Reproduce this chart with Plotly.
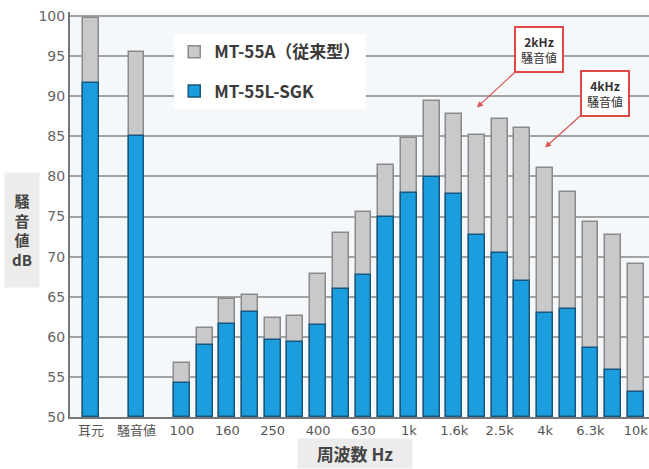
import plotly.graph_objects as go

categories = ["耳元", "騒音値", "100", "125", "160", "200", "250", "315", "400", "500",
              "630", "800", "1k", "1.25k", "1.6k", "2k", "2.5k", "3.15k", "4k", "5k",
              "6.3k", "8k", "10k"]
mt55a = [99.7, 95.5, 56.7, 61.1, 64.7, 65.2, 62.4, 62.6, 67.8, 73.0,
         75.6, 81.4, 84.8, 89.4, 87.8, 85.2, 87.2, 86.0, 81.1, 78.0,
         74.3, 72.7, 69.1]
mt55l = [91.7, 85.1, 54.2, 59.0, 61.6, 63.1, 59.6, 59.4, 61.5, 65.9,
         67.7, 75.0, 77.9, 79.9, 77.8, 72.7, 70.5, 67.0, 63.0, 63.5,
         58.6, 55.9, 53.1]
tick_labels = ["耳元", "騒音値", "100", "160", "250", "400", "630", "1k", "1.6k",
               "2.5k", "4k", "6.3k", "10k"]

# x positions: the two summary bars get a double slot, then 1/3-octave bands
xpos = {}
p = 0
for i, c in enumerate(categories):
    xpos[c] = p
    p += 2 if i < 2 else 1
xs = [xpos[c] for c in categories]
tickvals = [xpos[t] for t in tick_labels]

FONT = "DejaVu Sans, Verdana, sans-serif"
CJK = "Noto Sans CJK JP, Liberation Sans, sans-serif"

fig = go.Figure()
fig.add_trace(go.Bar(
    x=xs, y=[v - 50 for v in mt55a], base=50, name="<b>MT-55A（従来型）</b>",
    marker=dict(color="#c9c9cb", line=dict(color="#8a8a8a", width=1.5)),
    width=0.7, legendgroup="a"))
fig.add_trace(go.Bar(
    x=xs, y=[v - 50 for v in mt55l], base=50, name="<b>MT-55L-SGK</b>",
    marker=dict(color="#1c9ddd", line=dict(color="#17577e", width=1.5)),
    width=0.7, legendgroup="b"))

fig.update_layout(
    width=649, height=469,
    margin=dict(l=70, r=0, t=12, b=52),
    barmode="overlay",
    paper_bgcolor="white",
    plot_bgcolor="#f4f8fb",
    font=dict(family=FONT, color="#555"),
    showlegend=True,
    legend=dict(x=0.18, y=0.945, xanchor="left", yanchor="top",
                bgcolor="white", borderwidth=0,
                font=dict(family=CJK, size=17, color="#3a3a3a"),
                tracegroupgap=14, traceorder="grouped",
                itemwidth=30),
    bargap=0,
)
fig.update_xaxes(
    range=[-0.93, 24.58], tickmode="array", tickvals=tickvals, ticktext=tick_labels,
    tickfont=dict(family="DejaVu Sans, Noto Sans CJK JP, sans-serif", size=13, color="#555"),
    showline=True, linecolor="#777", linewidth=2, showgrid=False, ticks="", zeroline=False,
    automargin=False)
fig.update_yaxes(
    range=[50, 100.5], tickvals=list(range(50, 101, 5)),
    tickfont=dict(family=FONT, size=14, color="#666"),
    showline=True, linecolor="#777", linewidth=2,
    showgrid=True, gridcolor="#a3a3a3", gridwidth=1.5, ticks="", zeroline=False,
    automargin=False)

# axis titles
fig.add_annotation(xref="paper", yref="paper", x=-0.083, y=0.462, xanchor="center",
                   yanchor="middle",
                   text="<b>騒<br>音<br>値<br>dB</b>", showarrow=False,
                   font=dict(family=CJK, size=15, color="#444"),
                   width=22, height=102,
                   bgcolor="#ececec", borderpad=6, align="center")
fig.add_annotation(xref="paper", yref="paper", x=0.492, y=-0.128, yanchor="bottom",
                   xanchor="center",
                   text="<b>周波数 Hz</b>", showarrow=False,
                   font=dict(family=CJK, size=17, color="#444"),
                   width=110, bgcolor="#ececec", borderpad=2)

# callouts
fig.add_annotation(x=xpos["2k"], y=88.6, xref="x", yref="y",
                   ax=19.74, ay=95.8, axref="x", ayref="y",
                   text="<b>2kHz</b><br>騒音値", showarrow=True, arrowhead=2, arrowsize=1,
                   arrowwidth=1.2, arrowcolor="#d9534f",
                   font=dict(family=CJK, size=12, color="#333"),
                   bgcolor="white", bordercolor="#dd4a45", borderwidth=2, borderpad=5)
fig.add_annotation(x=xpos["4k"], y=83.6, xref="x", yref="y",
                   ax=22.64, ay=90.3, axref="x", ayref="y",
                   text="<b>4kHz</b><br>騒音値", showarrow=True, arrowhead=2, arrowsize=1,
                   arrowwidth=1.2, arrowcolor="#d9534f",
                   font=dict(family=CJK, size=12, color="#333"),
                   bgcolor="white", bordercolor="#dd4a45", borderwidth=2, borderpad=5)

fig.write_html("out.html", config={"displayModeBar": False},
               post_script="document.body.style.margin='0px';document.body.style.overflow='hidden';")
